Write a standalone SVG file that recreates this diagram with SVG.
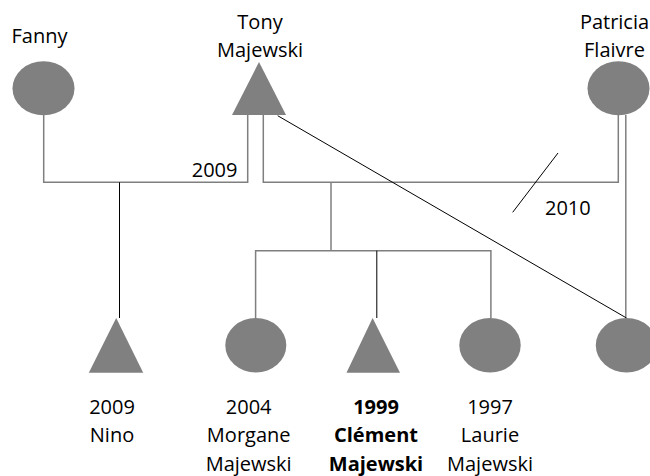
<svg xmlns="http://www.w3.org/2000/svg" width="650" height="476" viewBox="0 0 650 476">
<style>
.shape{fill:#808080;stroke:none}
.g{stroke:#7f7f7f;stroke-width:1.5;fill:none}
.k{stroke:#000;stroke-width:1;fill:none}
text{font-family:"Open Sans","Liberation Sans",sans-serif;font-size:20px;fill:#000;text-anchor:middle}
.b{font-weight:bold}
</style>
<rect width="650" height="476" fill="#fff"/>
<g id="connectors">
<polyline class="g" points="43.7,115 43.7,182.3 247.7,182.3 247.7,115"/>
<line class="k" x1="119.5" y1="182.3" x2="119.5" y2="318"/>
<polyline class="g" points="263.3,115 263.3,182.3 618.3,182.3 618.3,115"/>
<line class="g" x1="625.8" y1="115" x2="625.8" y2="318"/>
<line class="g" x1="331" y1="182.3" x2="331" y2="250.7"/>
<polyline class="g" points="255.6,318 255.6,250.7 490.9,250.7 490.9,318"/>
<line class="k" x1="376.8" y1="250.7" x2="376.8" y2="318"/>
<line class="k" x1="277.7" y1="115.7" x2="626.5" y2="318"/>
<line class="k" x1="512.7" y1="212.3" x2="558" y2="153"/>
<text x="237.5" y="176.5" style="text-anchor:end">2009</text>
<text x="545" y="215" style="text-anchor:start">2010</text>
</g>
<g id="fanny">
<ellipse class="shape" cx="43.5" cy="88.3" rx="31" ry="27"/>
<text x="39.5" y="42.5">Fanny</text>
</g>
<g id="tony">
<polygon class="shape" points="259,62 232,115 286,115"/>
<text x="260" y="28.5">Tony</text>
<text x="260" y="56.5">Majewski</text>
</g>
<g id="patricia">
<ellipse class="shape" cx="618.5" cy="88.3" rx="31" ry="27"/>
<text x="614.5" y="28.5">Patricia</text>
<text x="614.5" y="56.5">Flaivre</text>
</g>
<g id="nino">
<polygon class="shape" points="116.2,318 88.8,372.7 143.2,372.7"/>
<text x="112" y="413.5">2009</text>
<text x="112" y="442.3">Nino</text>
</g>
<g id="morgane">
<ellipse class="shape" cx="255.8" cy="345.3" rx="30.5" ry="27.3"/>
<text x="248.7" y="413.5">2004</text>
<text x="248.7" y="442.3">Morgane</text>
<text x="248.7" y="470.7">Majewski</text>
</g>
<g id="clement">
<polygon class="shape" points="372.6,318 346.5,372.7 400,372.7"/>
<text class="b" x="376" y="413.5">1999</text>
<text class="b" x="376" y="442.3">Clément</text>
<text class="b" x="376" y="470.7">Majewski</text>
</g>
<g id="laurie">
<ellipse class="shape" cx="490" cy="345.3" rx="30.7" ry="27.3"/>
<text x="490" y="413.5">1997</text>
<text x="490" y="442.3">Laurie</text>
<text x="490" y="470.7">Majewski</text>
</g>
<g id="daughter">
<ellipse class="shape" cx="626.5" cy="345.3" rx="30.7" ry="27.3"/>
</g>
</svg>
